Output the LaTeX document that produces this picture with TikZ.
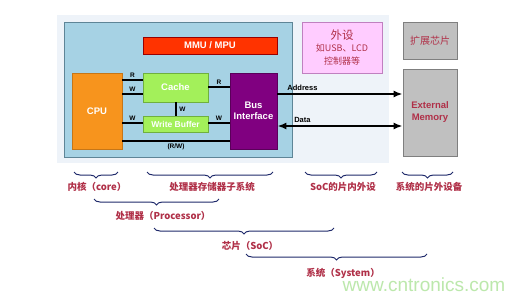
\documentclass[tikz,border=0pt]{standalone}
\usepackage{fontspec}
\setmainfont{Liberation Sans}
\newfontfamily\cjk{Noto Sans CJK SC}
\usetikzlibrary{arrows.meta,decorations.pathreplacing}
\definecolor{bglight}{HTML}{EEF3F9}
\definecolor{procfill}{HTML}{A6D2E4}
\definecolor{procline}{HTML}{5E8597}
\definecolor{mmured}{HTML}{FF3300}
\definecolor{cpuor}{HTML}{F7941D}
\definecolor{cachegr}{HTML}{A3F05A}
\definecolor{cacheln}{HTML}{6FB03E}
\definecolor{busp}{HTML}{800080}
\definecolor{pinkf}{HTML}{FFCCFF}
\definecolor{pinkl}{HTML}{C080C0}
\definecolor{grayf}{HTML}{C0C0C0}
\definecolor{grayl}{HTML}{7F7F7F}
\definecolor{lblred}{HTML}{B03048}
\definecolor{bracec}{HTML}{1F2A6B}
\definecolor{wmgreen}{HTML}{BCE8AC}
\tikzset{
  blk/.style={draw, line width=0.8pt, inner sep=1pt, align=center},
  conn/.style={line width=1.8pt, black},
  sig/.style={font=\fontsize{6.5}{7}\selectfont\bfseries, inner sep=0.5pt},
  brc/.style={decorate, decoration={brace, mirror, amplitude=6pt}, line width=1pt, bracec},
  blabel/.style={font=\cjk\bfseries\fontsize{9.5}{10}\selectfont, text=lblred, inner sep=0pt},
  arr/.style={line width=1.8pt, -{Latex[length=9pt,width=7pt]}},
}
\begin{document}
\begin{tikzpicture}[x=1pt,y=-1pt]
\useasboundingbox[fill=white] (0,0) rectangle (526,300);
% backgrounds
\fill[bglight] (57,15) rectangle (389,163);
\node[draw=procline, fill=procfill, line width=0.8pt, minimum width=228pt, minimum height=135pt, inner sep=0pt] (proc) at (178,89.5) {};
% blocks
\node[blk, draw=red!60!black, fill=mmured, text=white, minimum width=134pt, minimum height=17pt, font=\fontsize{9.5}{10}\selectfont\bfseries] (mmu) at (210,45.5) {MMU / MPU};
\node[blk, draw=cpuor!80!black, fill=cpuor, text=white, minimum width=50pt, minimum height=76pt, font=\fontsize{9.5}{10}\selectfont\bfseries] (cpu) at (97,111) {CPU};
\node[blk, draw=cacheln, fill=cachegr, text=white, minimum width=65pt, minimum height=29pt, font=\fontsize{9.5}{10}\selectfont\bfseries] (cache) at (175.5,87.5) {Cache};
\node[blk, draw=cacheln, fill=cachegr, text=white, minimum width=65pt, minimum height=16pt, font=\fontsize{8.5}{9}\selectfont\bfseries] (wb) at (175.5,124) {Write Buffer};
\node[blk, draw=busp!70!black, fill=busp, text=white, minimum width=47pt, minimum height=76pt, font=\fontsize{9.5}{11.5}\selectfont\bfseries] (bus) at (253.5,111) {Bus\\Interface};
\node[blk, draw=pinkl, fill=pinkf, text=lblred, minimum width=80pt, minimum height=51pt, font=\cjk\fontsize{9}{12.5}\selectfont] (per) at (342,47.5) {{\fontsize{11.5}{12}\selectfont 外设}\\如USB、LCD\\控制器等};
\node[blk, draw=grayl, fill=grayf, text=lblred, minimum width=54pt, minimum height=37pt, font=\cjk\fontsize{10}{11}\selectfont] (ext) at (430,40.5) {扩展芯片};
\node[blk, draw=grayl, fill=grayf, text=lblred, minimum width=54pt, minimum height=87pt, font=\fontsize{9.5}{12}\selectfont\bfseries] (mem) at (430,112.5) {External\\Memory};
% connectors inside processor
\draw[conn] (cpu.east |- 0,80) -- (cache.west |- 0,80) node[sig, midway, above=1pt] {R};
\draw[conn] (cpu.east |- 0,94) -- (cache.west |- 0,94) node[sig, midway, above=1pt] {W};
\draw[conn] (cpu.east |- 0,123) -- (wb.west |- 0,123) node[sig, midway, above=1pt] {W};
\draw[conn] (cache.east |- 0,87) -- (bus.west |- 0,87) node[sig, midway, above=1pt] {R};
\draw[conn] (wb.east |- 0,123) -- (bus.west |- 0,123) node[sig, midway, above=1pt] {W};
\draw[conn] (cache.south -| 176,0) -- (wb.north -| 176,0) node[sig, midway, right=2pt] {W};
\draw[conn] (cpu.east |- 0,141) -- (bus.west |- 0,141) node[sig, pos=0.5, below=1.5pt] {(R/W)};
% external buses
\draw[arr] (bus.east |- 0,94) -- (mem.west |- 0,94) node[sig, font=\fontsize{7.5}{8}\selectfont\bfseries, pos=0.2, above=2pt] {Address};
\draw[line width=1.8pt, {Latex[length=9pt,width=7pt]}-{Latex[length=9pt,width=7pt]}] (bus.east |- 0,126) -- (mem.west |- 0,126) node[sig, font=\fontsize{7.5}{8}\selectfont\bfseries, pos=0.2, above=2pt] {Data};
% braces
\coordinate (b1a) at (74,172); \coordinate (b1b) at (118,172);
\coordinate (b2a) at (147,172); \coordinate (b2b) at (273,172);
\coordinate (b3a) at (305,172); \coordinate (b3b) at (377,172);
\coordinate (b4a) at (402,172); \coordinate (b4b) at (453,172);
\coordinate (b5a) at (94,199); \coordinate (b5b) at (219,199);
\coordinate (b6a) at (154,228); \coordinate (b6b) at (334,228);
\coordinate (b7a) at (246,254); \coordinate (b7b) at (427,254);
\draw[brc] (b1a) -- (b1b);
\draw[brc] (b2a) -- (b2b);
\draw[brc] (b3a) -- (b3b);
\draw[brc] (b4a) -- (b4b);
\draw[brc] (b5a) -- (b5b);
\draw[brc] (b6a) -- (b6b);
\draw[brc] (b7a) -- (b7b);
\node[blabel] (l1) at (97,187) {内核（core）};
\node[blabel] (l2) at (212,187) {处理器存储器子系统};
\node[blabel] (l3) at (343,187) {SoC的片内外设};
\node[blabel] (l4) at (429,187) {系统的片外设备};
\node[blabel] (l5) at (163,216) {处理器（Processor）};
\node[blabel] (l6) at (250,246) {芯片（SoC）};
\node[blabel] (l7) at (343,273) {系统（System）};
% watermark
\node[text=wmgreen, font=\fontsize{19}{20}\selectfont, inner sep=0pt] (wm) at (424,285) {www.cntronics.com};
\end{tikzpicture}
\end{document}
